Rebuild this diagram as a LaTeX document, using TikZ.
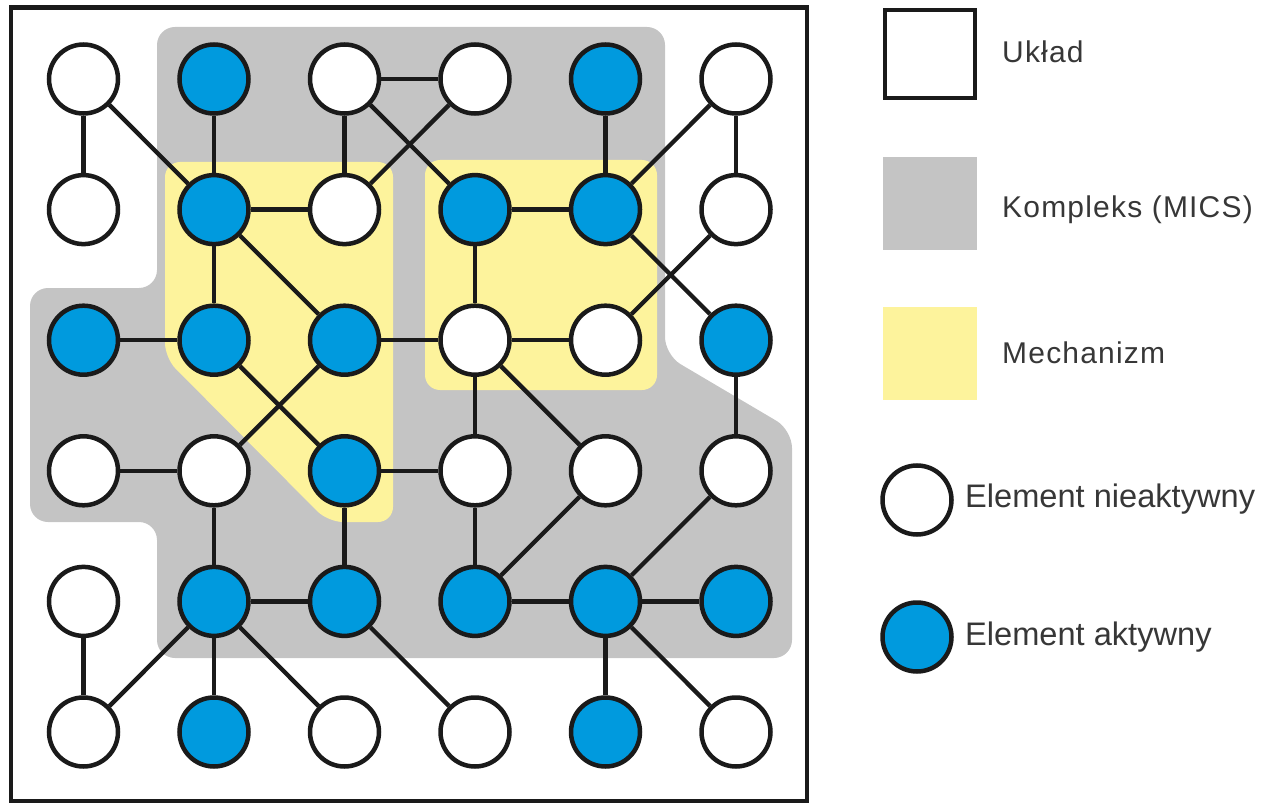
\documentclass[tikz,border=0pt]{standalone}
\usepackage{fontspec}
\setmainfont{Liberation Sans}
\newfontfamily\spacedfont[LetterSpace=4]{Liberation Sans}
\definecolor{activeblue}{RGB}{0,154,222}
\definecolor{cplxgray}{RGB}{196,196,196}
\definecolor{mechyellow}{RGB}{253,243,156}
\definecolor{txtgray}{RGB}{55,55,55}
\definecolor{ink}{RGB}{26,26,26}

\begin{document}
\begin{tikzpicture}[x=1pt,y=-1pt,
  elem/.style={circle,draw=ink,line width=4.5pt,minimum size=69pt,inner sep=0pt},
  idlenode/.style={elem,fill=white},
  actnode/.style={elem,fill=activeblue},
  link/.style={line width=4.3pt,draw=ink},
  toplbl/.style={anchor=base west,text=txtgray,inner sep=0pt,font=\spacedfont\fontsize{30}{34}\selectfont},
  elbl/.style={anchor=base west,text=txtgray,inner sep=0pt,font=\fontsize{32.6}{36}\selectfont}]

\useasboundingbox (0,0) rectangle (1264,805);

% complex (MICS) region
\fill[cplxgray,rounded corners=18pt]
  (157,27) -- (665,27) -- (665,355) -- (792,430) -- (792,658)
  -- (157,658) -- (157,522) -- (30,522) -- (30,288) -- (157,288) -- cycle;

% mechanisms
\fill[mechyellow,rounded corners=15pt]
  (165,162) -- (393,162) -- (393,522) -- (328,522) -- (165,358) -- cycle;
\fill[mechyellow,rounded corners=15pt] (425,160) rectangle (657,390);

% system frame
\draw[ink,line width=4.3pt] (11,7.5) rectangle (807,801);

% elements
\foreach \c/\r/\kind in {
  1/1/idlenode,2/1/actnode,3/1/idlenode,4/1/idlenode,5/1/actnode,6/1/idlenode,
  1/2/idlenode,2/2/actnode,3/2/idlenode,4/2/actnode,5/2/actnode,6/2/idlenode,
  1/3/actnode,2/3/actnode,3/3/actnode,4/3/idlenode,5/3/idlenode,6/3/actnode,
  1/4/idlenode,2/4/idlenode,3/4/actnode,4/4/idlenode,5/4/idlenode,6/4/idlenode,
  1/5/idlenode,2/5/actnode,3/5/actnode,4/5/actnode,5/5/actnode,6/5/actnode,
  1/6/idlenode,2/6/actnode,3/6/idlenode,4/6/idlenode,5/6/actnode,6/6/idlenode}
  \node[\kind] (n\c\r) at ({83.5+130.5*(\c-1)},{79+130.6*(\r-1)}) {};

% connections
\foreach \a/\b in {
  11/12, 11/22, 21/22, 31/41, 31/32, 31/42, 41/32, 51/52, 61/62, 61/52,
  22/32, 22/23, 22/33, 42/52, 42/43, 52/63, 62/53,
  13/23, 23/34, 33/24, 33/43, 43/53, 43/44, 43/54, 63/64,
  14/24, 24/25, 34/44, 34/35, 44/45, 54/45, 64/55,
  25/35, 45/55, 55/65, 15/16, 25/16, 25/26, 25/36, 35/46, 55/56, 55/66}
  \draw[link] (n\a) -- (n\b);

% legend
\node[draw=ink,line width=4.8pt,fill=white,minimum width=90pt,minimum height=88pt,inner sep=0pt] (legsys) at (930,54) {};
\node[fill=cplxgray,minimum width=94pt,minimum height=93pt,inner sep=0pt] (legcplx) at (930,203.5) {};
\node[fill=mechyellow,minimum width=94pt,minimum height=93pt,inner sep=0pt] (legmech) at (930,353.5) {};
\node[idlenode] (legidle) at (917,500) {};
\node[actnode] (legact) at (917,637) {};

\node[toplbl] (tsys) at (1002,63) {Układ};
\node[toplbl] (tcplx) at (1002,218) {Kompleks (MICS)};
\node[toplbl] (tmech) at (1002,363) {Mechanizm};
\node[elbl] (tidle) at (965,507) {Element nieaktywny};
\node[elbl] (tact) at (965,645) {Element aktywny};
\end{tikzpicture}
\end{document}
